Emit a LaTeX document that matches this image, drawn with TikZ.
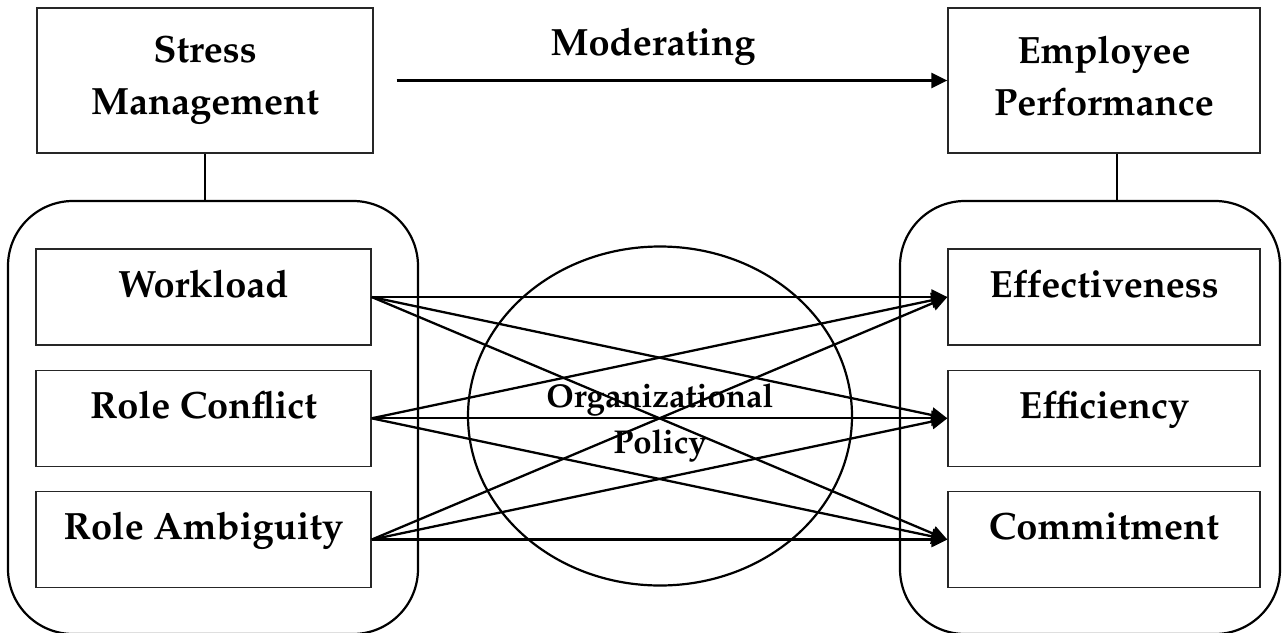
\documentclass[tikz,border=0pt]{standalone}
\usepackage[T1]{fontenc}
\usepackage{mathpazo}
\usetikzlibrary{arrows.meta, positioning, shapes.geometric, calc}

\begin{document}
\begin{tikzpicture}[
    x=1pt, y=-1pt,
    topbox/.style={
        rectangle, draw=black!85, line width=1.3pt,
        minimum height=145pt, align=center, inner sep=0pt,
        font=\fontsize{38}{52}\selectfont\bfseries
    },
    grpbox/.style={
        rectangle, rounded corners=65pt,
        draw=black, line width=2.2pt,
        minimum width=410pt, minimum height=433pt
    },
    factor/.style={
        rectangle, draw=black!85, line width=1.3pt,
        minimum height=96pt, inner sep=0pt,
        text height=26pt, text depth=26pt,
        font=\fontsize{38}{46}\selectfont\bfseries
    },
    arr/.style={-{Triangle[length=16pt,width=15pt]}, line width=2.3pt},
    link/.style={line width=2.2pt},
]
\useasboundingbox (0,0) rectangle (1282,632);

% Rounded groups
\node[grpbox] (lgrp) at (213,417.5) {};
\node[grpbox, minimum width=380pt] (rgrp) at (1090,417.5) {};

% Top row
\node[topbox, minimum width=336pt] (stress) at (205,80.5) {Stress\\Management};
\node[topbox, minimum width=312pt] (perf) at (1104,80.5) {Employee\\Performance\vphantom{g}};
\node[anchor=base, font=\fontsize{38}{46}\selectfont\bfseries] (moder) at (653,55) {Moderating};

% Left factors
\node[factor, minimum width=335pt] (workload) at (203.5,297) {Workload};
\node[factor, minimum width=335pt, below=24pt of workload] (conflict) {Role Conflict};
\node[factor, minimum width=335pt, below=24pt of conflict] (ambig) {Role Ambiguity};

% Right factors
\node[factor, minimum width=312pt] (effect) at (1104,297) {Effectiveness};
\node[factor, minimum width=312pt, below=24pt of effect] (effic) {Efficiency};
\node[factor, minimum width=312pt, below=24pt of effic] (commit) {Commitment};

% Moderator
\node[ellipse, draw=black, line width=2.2pt,
      minimum width=384pt, minimum height=339pt] (policy) at (660,416) {};
\node[align=center, font=\fontsize{33}{46}\selectfont\bfseries,
      yshift=-7pt] (policytxt) at (policy.center) {Organizational\\Policy};

% Top links
\draw[arr] ([xshift=23pt]stress.east) -- (perf.west);
\draw[link] (stress.south) -- (stress.south |- lgrp.north);
\draw[link] ([xshift=13pt]perf.south) -- ([xshift=13pt]perf.south |- rgrp.north);

% Workload
\draw[arr] (workload.east) -- (effect.west);
\draw[arr] (workload.east) -- (effic.west);
\draw[arr] (workload.east) -- (commit.west);

% Role conflict
\draw[arr] (conflict.east) -- (effect.west);
\draw[arr] (conflict.east) -- (effic.west);
\draw[arr] (conflict.east) -- (commit.west);

% Role ambiguity
\draw[arr] (ambig.east) -- (effect.west);
\draw[arr] (ambig.east) -- (effic.west);
\draw[arr] (ambig.east) -- (commit.west);

\end{tikzpicture}
\end{document}
